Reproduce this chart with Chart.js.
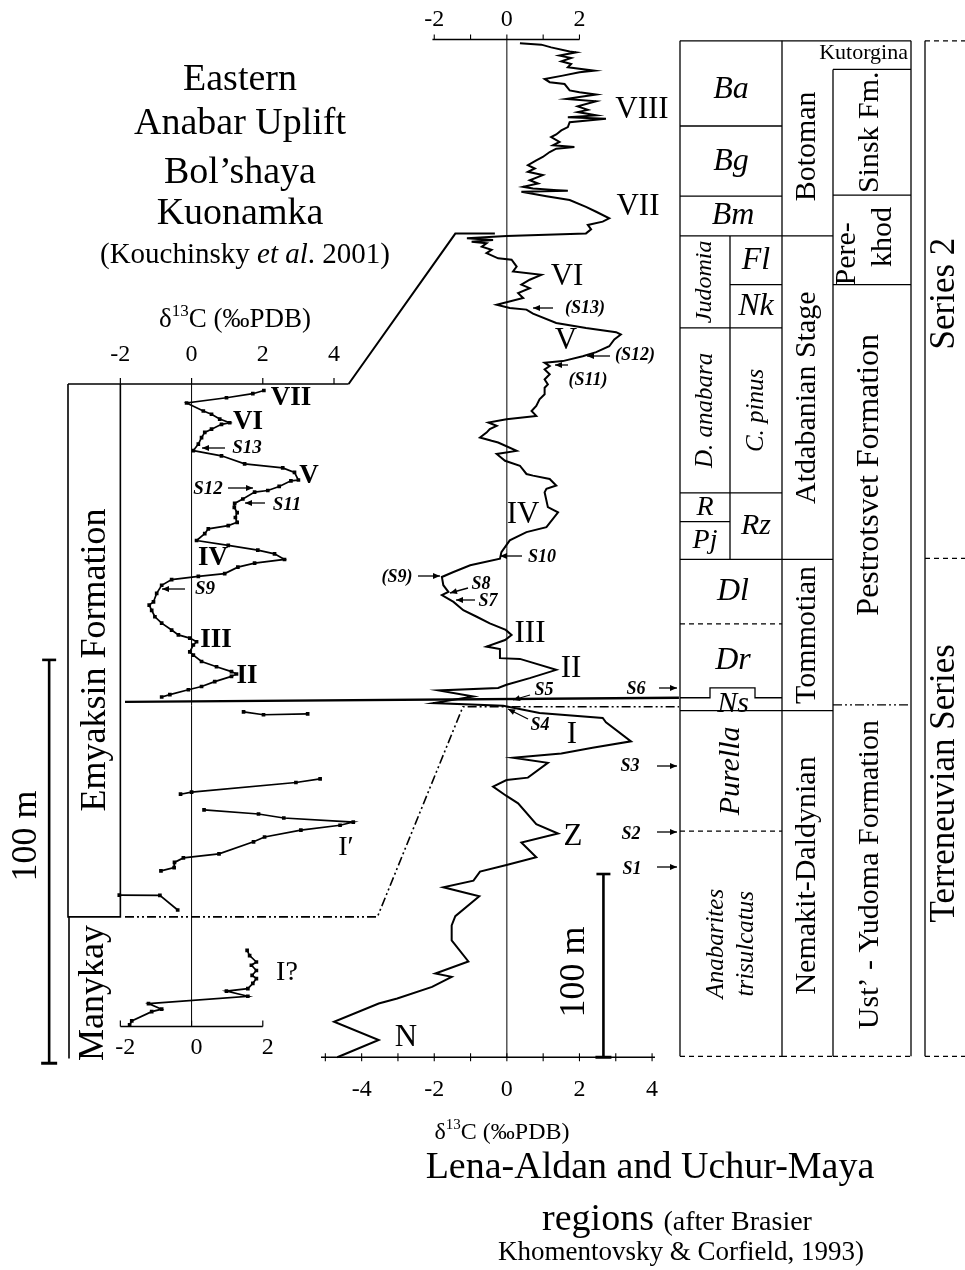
<!DOCTYPE html>
<html>
<head>
<meta charset="utf-8">
<title>Cambrian δ13C chemostratigraphy, Siberian Platform</title>
<script src="https://cdn.jsdelivr.net/npm/chart.js@4.4.1/dist/chart.umd.min.js"></script>
<style>
  html, body { margin: 0; padding: 0; background: #fff; overflow: hidden; }
  canvas { display: block; }
</style>
</head>
<body>
<canvas id="chart" width="965" height="1270"></canvas>
<script>
// Eastern Anabar Uplift (Bol'shaya Kuonamka): [d13C, height m]
const anabarUpper = [
  [2.03,166.8],[1.72,166.0],[0.98,165.0],[-0.14,163.7],[0.33,161.7],[0.56,160.9],[0.79,159.7],[1.07,158.8],
  [0.84,158.4],[0.56,157.2],[0.37,156.4],[0.28,155.1],[0.19,153.5],[0.05,151.9],[0.84,150.6],[1.49,148.6],
  [2.56,147.6],[2.89,146.5],[3.00,144.6],[2.79,144.4],[2.46,143.0],[2.14,142.0],[1.77,141.6],[1.44,139.9],
  [1.21,138.8],[1.20,137.8],[1.28,136.5],[1.23,135.3],[1.28,134.1],[1.03,133.3],[0.47,132.5],[0.37,131.3],
  [0.14,129.6],[1.03,128.4],[1.86,127.2],[2.33,126.3],[2.61,124.9],[1.77,124.0],[1.30,123.0],[0.93,121.4],
  [0.19,120.7],[-0.56,119.9],[-0.84,118.5],[-0.98,116.5],[-1.07,114.4],[-1.19,113.6],[-1.12,112.3],[-1.03,110.7],
  [-0.84,109.1],[-0.56,107.4],[-0.37,106.2],[-0.05,105.4],[0.14,104.5],[0.05,103.7],[-0.05,102.0],[0.05,101.2],
  [0.28,99.6],[0.70,98.3],[1.12,97.1],[1.26,96.5],[1.12,95.9],[0.65,94.6],[0.28,93.4],[-0.09,92.6],
  [-0.61,91.4],[-0.84,90.8]
];
const anabarSegA = [[1.46,87.1],[2.02,86.4],[3.26,86.6]];
const anabarSegB = [[3.61,70.5],[2.93,69.6],[0.00,67.2],[-0.31,66.7]];
const anabarSegC = [
  [0.35,62.8],[1.88,61.8],[2.59,60.8],[4.54,59.8],[4.17,59.0],[3.07,57.8],[2.05,56.1],
  [1.74,54.9],[0.77,51.9],[-0.23,50.9],[-0.48,49.8],[-0.49,48.5],[-0.86,47.7]
];
const anabarSegD = [[-2.03,41.7],[-0.89,41.6],[-0.39,38.0]];
const manykay = [
  [1.56,28.0],[1.63,26.7],[1.82,25.1],[1.68,24.3],[1.82,23.0],[1.70,21.8],[1.82,21.0],[1.72,19.8],
  [1.58,18.5],[0.98,17.9],[1.58,16.6],[-1.21,14.8],[-0.84,13.4],[-1.12,12.8],[-1.68,10.5],[-1.74,9.5]
];

// Lena-Aldan and Uchur-Maya composite: [d13C, height m]
const lenaAldan = [
  [0.36,553.4],[0.95,552.6],[1.22,551.1],[1.73,548.9],[1.91,548.4],[1.45,546.6],[1.77,545.3],[1.50,543.5],
  [1.77,542.0],[1.68,540.2],[2.41,538.4],[2.00,537.5],[1.54,535.7],[1.04,533.9],[1.18,532.1],[1.59,531.1],
  [1.73,527.6],[2.00,526.6],[2.46,525.4],[2.09,524.3],[1.64,523.0],[2.46,521.7],[1.95,518.9],[2.23,517.0],
  [1.95,515.8],[2.46,514.0],[1.68,513.0],[2.73,512.1],[1.73,510.3],[1.68,507.6],[1.50,505.8],[1.36,503.6],
  [1.22,502.2],[1.45,499.5],[1.27,497.7],[1.86,496.7],[1.36,495.8],[1.18,494.0],[0.99,491.3],[0.81,489.5],
  [0.58,486.8],[0.77,485.0],[0.58,483.2],[0.99,481.4],[0.63,478.6],[0.86,476.8],[0.45,475.0],[0.72,474.1],
  [1.68,472.8],[0.40,472.3],[1.09,469.9],[1.73,467.8],[2.18,464.1],[2.46,461.4],[2.82,457.8],[2.64,456.0],
  [2.23,454.2],[2.32,451.8],[2.18,449.6],[-0.01,448.2],[-1.10,446.9],[-0.38,446.0],[-0.97,445.1],[-0.56,444.2],
  [-0.69,442.4],[-0.42,440.6],[-0.56,438.8],[-0.24,436.0],[0.13,435.2],[0.27,431.5],[0.17,428.8],[0.95,427.0],
  [0.63,424.3],[0.40,421.6],[0.63,419.7],[0.31,417.0],[0.45,414.3],[-0.28,410.7],[0.08,408.9],[0.54,408.0],
  [0.72,405.8],[1.36,400.7],[2.18,398.0],[3.01,395.7],[3.14,394.4],[2.96,391.7],[2.82,388.0],[2.46,384.8],
  [2.09,382.6],[1.54,379.9],[1.04,379.0],[1.18,377.2],[1.04,375.4],[1.18,372.7],[1.04,369.9],[1.13,367.2],
  [1.04,365.4],[1.04,361.8],[0.90,359.1],[0.81,355.4],[0.68,352.7],[0.81,350.0],[-0.01,348.2],[-0.51,346.4],
  [-0.28,344.6],[-0.47,342.8],[-0.56,340.9],[-0.74,338.2],[-0.42,336.4],[-0.24,335.5],[0.27,330.9],[-0.28,329.2],
  [-0.05,325.5],[0.36,322.8],[0.54,318.3],[0.72,317.4],[1.18,315.6],[1.36,312.0],[1.09,310.2],[1.04,308.3],
  [1.13,300.2],[1.41,297.4],[1.09,289.3],[0.54,286.6],[0.08,282.1],[-0.15,275.7],[-0.19,272.1],[-1.01,268.5],
  [-1.47,264.8],[-1.79,262.1],[-1.75,257.6],[-1.61,254.0],[-1.79,252.2],[-1.47,248.5],[-1.20,244.0],[-0.83,240.4],
  [-0.47,236.8],[-0.03,233.2],[0.13,230.4],[-0.05,227.7],[-0.56,224.1],[-0.19,222.8],[-0.19,217.8],[0.36,217.4],
  [1.36,211.4],[0.63,206.9],[-0.01,203.3],[-0.24,201.5],[-1.88,200.2],[-0.92,196.9],[-2.02,193.3],[-0.10,191.8],
  [0.90,187.9],[2.64,185.2],[2.73,182.8],[3.42,172.4],[2.36,168.9],[1.50,165.8],[0.17,163.4],[1.13,160.7],
  [0.58,152.6],[-0.01,151.3],[-0.38,147.7],[-0.01,142.6],[0.31,138.6],[0.81,127.2],[1.41,122.1],[0.40,117.2],
  [0.81,109.1],[-0.01,104.9],[-0.74,101.3],[-0.92,96.4],[-1.75,92.8],[-0.76,87.9],[-1.42,77.0],[-1.52,71.9],
  [-1.52,63.8],[-1.06,52.3],[-1.97,45.7],[-1.52,43.9],[-2.06,38.4],[-3.02,32.1],[-3.53,29.3],[-4.76,19.4],
  [-3.53,9.4],[-4.67,0]
];

// axes
const anabarTicks = [-2, 0, 2, 4];
const manykayTicks = [-2, 0, 2];
const lenaTopTicks = [-2, -1, 0, 1, 2];
const lenaTopLabels = [-2, 0, 2];
const lenaBottomTicks = [-5, -4, -3, -2, -1, 0, 1, 2, 3, 4];
const lenaBottomLabels = [-4, -2, 0, 2, 4];
const anabarAxisLevel = 168.4;
const manykayAxisLevel = 9.1;
const lenaTopLevel = 555.4;
const lenaBottomLevel = 0;

// stratigraphic columns (Lena-Aldan heights, m)
const zoneNames = ['Ba', 'Bg', 'Bm', 'Judomia', 'D. anabara', 'R', 'Pj', 'Fl', 'Nk', 'C. pinus', 'Rz',
                   'Dl', 'Dr', 'Ns', 'Purella', 'Anabarites|trisulcatus'];
const zoneTops  = [554.7, 508.2, 469.9, 448.2, 398.0, 308.0, 292.3, 448.2, 421.6, 398.0, 308.0,
                   271.7, 236.5, 196.2, 189.2, 123.4];
const zoneBases = [508.2, 469.9, 448.2, 398.0, 308.0, 292.3, 271.7, 421.6, 398.0, 308.0, 271.7,
                   236.5, 196.2, 189.2, 123.4, 0.5];
const zoneCols  = ['f', 'f', 'f', 'l', 'l', 'l', 'l', 'r', 'r', 'r', 'r', 'f', 'f', 'f', 'f', 'f'];
const stageNames = ['Botoman', 'Atdabanian Stage', 'Tommotian', 'Nemakit-Daldynian'];
const stageLimits = [554.7, 448.2, 271.7, 189.2, 0.5];
const formationNames = ['Kutorgina', 'Sinsk Fm.', 'Pere-|khod', 'Pestrotsvet Formation', 'Ust’ - Yudoma Formation'];
const formationLimits = [554.7, 539.1, 470.5, 421.6, 192.3, 0.5];
const seriesNames = ['Series 2', 'Terreneuvian Series'];
const seriesLimits = [554.7, 272.3, 0.5];
const nsBumpTop = 201.6;

// correlation lines between the two sections
const tieUpperLeft = [4.41, 168.4];
const tieUpperRight = [[-1.42, 449.5], [-0.33, 449.5]];
const tieBaseLeft = [-1.87, 89.6];
const tieBaseRight = [4.74, 196.2];
const tieDashLeft = [[-1.87, 36.3], [5.22, 36.3]];
const tieDashRight = [[-1.21, 191.3], [4.74, 191.3]];

const SERIF = '"Liberation Serif", "Times New Roman", Times, serif';

function font(size, style) {
  return (style ? style + ' ' : '') + size + 'px ' + SERIF;
}

function label(ctx, s, x, y, size, style, rotated) {
  ctx.save();
  ctx.font = font(size, style);
  ctx.fillStyle = '#000';
  ctx.textAlign = 'center';
  ctx.textBaseline = 'middle';
  ctx.translate(x, y);
  if (rotated) ctx.rotate(-Math.PI / 2);
  ctx.fillText(s, 0, 0);
  ctx.restore();
}

function richLine(ctx, parts, cx, y) {
  ctx.save();
  ctx.fillStyle = '#000';
  ctx.textAlign = 'left';
  ctx.textBaseline = 'alphabetic';
  let w = 0;
  parts.forEach(p => { ctx.font = p[1]; w += ctx.measureText(p[0]).width; });
  let x = cx - w / 2;
  parts.forEach(p => {
    ctx.font = p[1];
    ctx.fillText(p[0], x, y + (p[2] || 0));
    x += ctx.measureText(p[0]).width;
  });
  ctx.restore();
}

function deltaLabel(ctx, cx, y, size) {
  richLine(ctx, [['δ', font(size)], ['13', font(Math.round(size * 0.62)), -size * 0.42],
                 ['C (‰PDB)', font(size)]], cx, y);
}

function seg(ctx, pts, width, dash) {
  ctx.save();
  ctx.lineWidth = width || 1;
  ctx.strokeStyle = '#000';
  ctx.setLineDash(dash || []);
  ctx.beginPath();
  pts.forEach((p, i) => i ? ctx.lineTo(p[0], p[1]) : ctx.moveTo(p[0], p[1]));
  ctx.stroke();
  ctx.restore();
}

function arrow(ctx, x1, y1, x2, y2) {
  seg(ctx, [[x1, y1], [x2, y2]], 1.3);
  const a = Math.atan2(y2 - y1, x2 - x1), L = 7, W = 3;
  ctx.save();
  ctx.fillStyle = '#000';
  ctx.beginPath();
  ctx.moveTo(x2, y2);
  ctx.lineTo(x2 - L * Math.cos(a) + W * Math.sin(a), y2 - L * Math.sin(a) - W * Math.cos(a));
  ctx.lineTo(x2 - L * Math.cos(a) - W * Math.sin(a), y2 - L * Math.sin(a) + W * Math.cos(a));
  ctx.closePath();
  ctx.fill();
  ctx.restore();
}

const DASH = [5, 4];
const DASHDOT = [9, 3, 2, 3, 2, 3];

const figurePlugin = {
  id: 'figure',
  beforeDatasetsDraw(chart) {
    const ctx = chart.ctx, s = chart.scales;
    const XL = v => s.xL.getPixelForValue(v), YL = v => s.yL.getPixelForValue(v);
    const XM = v => s.xM.getPixelForValue(v), YM = v => s.yM.getPixelForValue(v);

    // Anabar section frame and axes
    const yTop = YL(anabarAxisLevel), yMan = YL(manykayAxisLevel), yEmBase = YL(tieDashLeft[0][1]);
    seg(ctx, [[68, yTop], [XL(tieUpperLeft[0]), yTop]], 1.6);
    anabarTicks.forEach(t => seg(ctx, [[XL(t), yTop], [XL(t), yTop - 6]], 1.2));
    seg(ctx, [[XL(0), yTop], [XL(0), yMan]], 1);
    seg(ctx, [[68, yTop], [68, yEmBase], [XL(-2), yEmBase], [XL(-2), yTop]], 1.6);
    seg(ctx, [[69, yEmBase], [69, YL(1.2)]], 1.6);
    seg(ctx, [[XL(-2), yMan], [XL(2), yMan]], 1.5);
    manykayTicks.forEach(t => seg(ctx, [[XL(t), yMan], [XL(t), yMan - 6]], 1.2));
    // 100 m bar (Anabar)
    const bx = XL(-4);
    seg(ctx, [[bx, YL(100)], [bx, YL(0)]], 2.6);
    seg(ctx, [[bx - 7, YL(100)], [bx + 7, YL(100)]], 2.6);
    seg(ctx, [[bx - 8, YL(0)], [bx + 8, YL(0)]], 3);

    // Lena-Aldan axes
    const yT = YM(lenaTopLevel), yB = YM(lenaBottomLevel);
    seg(ctx, [[XM(-2.05), yT], [XM(2), yT]], 1.3);
    lenaTopTicks.forEach(t => seg(ctx, [[XM(t), yT], [XM(t), yT - 5]], 1.1));
    seg(ctx, [[XM(0), yT], [XM(0), yB]], 1, []);
    seg(ctx, [[XM(-5.12), yB], [XM(4.08), yB]], 1.3);
    lenaBottomTicks.forEach(t => seg(ctx, [[XM(t), yB - 4], [XM(t), yB + 4]], 1.1));
    // 100 m bar (Lena-Aldan)
    const mx = XM(2.66);
    seg(ctx, [[mx, YM(100)], [mx, YM(0)]], 2.6);
    seg(ctx, [[mx - 7, YM(100)], [mx + 7, YM(100)]], 2.6);
    seg(ctx, [[mx - 8, YM(0)], [mx + 8, YM(0)]], 3);

    // correlation lines
    seg(ctx, [[XL(tieUpperLeft[0]), YL(tieUpperLeft[1])]].concat(tieUpperRight.map(p => [XM(p[0]), YM(p[1])])), 2);
    seg(ctx, [[XL(tieBaseLeft[0]), YL(tieBaseLeft[1])], [XM(tieBaseRight[0]), YM(tieBaseRight[1])]], 2.4);
    seg(ctx, tieDashLeft.map(p => [XL(p[0]), YL(p[1])]).concat(tieDashRight.map(p => [XM(p[0]), YM(p[1])])), 1.6, DASHDOT);

    // stratigraphic columns
    const c0 = 680, c1 = 730, c2 = 782, c3 = 833, c4 = 911, s0 = 925, s1 = 965;
    const top = YM(stageLimits[0]), base = YM(stageLimits[stageLimits.length - 1]);
    seg(ctx, [[c0, top], [c4, top]], 1.3);
    [c0, c2, c4].forEach(x => seg(ctx, [[x, top], [x, base]], 1.3));
    seg(ctx, [[c3, YM(formationLimits[1])], [c3, base]], 1.3);
    seg(ctx, [[c1, YM(448.2)], [c1, YM(271.7)]], 1.3);
    zoneNames.forEach((n, i) => {
      if (n === 'Dr') return;
      const xa = zoneCols[i] === 'r' ? c1 : c0, xb = zoneCols[i] === 'l' ? c1 : c2;
      const dashed = n === 'Dl' || n === 'Purella' || n.startsWith('Anabarites');
      seg(ctx, [[xa, YM(zoneBases[i])], [xb, YM(zoneBases[i])]], 1.3, dashed ? DASH : []);
    });
    const yNs = YM(zoneTops[zoneNames.indexOf('Ns')]), yBump = YM(nsBumpTop);
    seg(ctx, [[c0, yNs], [710, yNs], [710, yBump], [755, yBump], [755, yNs], [c2, yNs]], 1.3);
    stageLimits.slice(1).forEach((v, i, a) => {
      seg(ctx, [[c2, YM(v)], [c3, YM(v)]], 1.3, i === a.length - 1 ? DASH : []);
    });
    formationLimits.slice(1).forEach((v, i, a) => {
      const last = i === a.length - 1;
      const dash = last ? DASH : (v === 192.3 ? DASHDOT : []);
      seg(ctx, [[c3, YM(v)], [c4, YM(v)]], 1.3, dash);
    });
    seg(ctx, [[s0, top], [s0, base]], 1.3);
    seriesLimits.forEach(v => seg(ctx, [[s0, YM(v)], [s1, YM(v)]], 1.3, DASH));
  },
  afterDatasetsDraw(chart) {
    const ctx = chart.ctx, s = chart.scales;
    const XL = v => s.xL.getPixelForValue(v);
    const XM = v => s.xM.getPixelForValue(v), YM = v => s.yM.getPixelForValue(v);

    // titles
    label(ctx, 'Eastern', 240, 80, 38);
    label(ctx, 'Anabar Uplift', 240, 124, 38);
    label(ctx, 'Bol’shaya', 240, 173, 38);
    label(ctx, 'Kuonamka', 240, 214, 38);
    richLine(ctx, [['(Kouchinsky ', font(29)], ['et al', font(29, 'italic')], ['. 2001)', font(29)]], 245, 263);
    deltaLabel(ctx, 235, 327, 27);
    anabarTicks.forEach(t => label(ctx, String(t), XL(t), 355, 24));
    manykayTicks.forEach(t => label(ctx, String(t), XL(t) + 5, 1048, 24));
    lenaTopLabels.forEach(t => label(ctx, String(t), XM(t), 20, 24));
    lenaBottomLabels.forEach(t => label(ctx, String(t), XM(t), 1090, 24));
    deltaLabel(ctx, 502, 1139, 24);
    label(ctx, 'Lena-Aldan and Uchur-Maya', 650, 1168, 38);
    richLine(ctx, [['regions ', font(38)], ['(after Brasier', font(28)]], 677, 1230);
    label(ctx, 'Khomentovsky & Corfield, 1993)', 681, 1253, 27);

    // formation names on the Anabar side
    label(ctx, 'Emyaksin Formation', 96, 660, 36, '', true);
    label(ctx, 'Manykay', 94, 993, 36, '', true);
    label(ctx, '100 m', 27, 836, 36, '', true);
    label(ctx, '100 m', 575, 972, 36, '', true);

    // Anabar curve labels
    const B = 'bold', BI = 'italic bold';
    label(ctx, 'VII', 291, 398, 27, B);
    label(ctx, 'VI', 248, 422, 27, B);
    label(ctx, 'S13', 247, 448, 19, BI);
    label(ctx, 'V', 309, 476, 27, B);
    label(ctx, 'S12', 208, 489, 19, BI);
    label(ctx, 'S11', 287, 505, 19, BI);
    label(ctx, 'IV', 213, 558, 27, B);
    label(ctx, 'S9', 205, 589, 19, BI);
    label(ctx, 'III', 216, 640, 27, B);
    label(ctx, 'II', 247, 676, 27, B);
    label(ctx, 'I′', 346, 848, 28);
    label(ctx, 'I?', 287, 973, 28);
    arrow(ctx, 225, 448, 202, 448);
    arrow(ctx, 228, 488, 253, 488);
    arrow(ctx, 265, 503, 245, 503);
    arrow(ctx, 185, 589, 162, 589);

    // Lena-Aldan curve labels
    label(ctx, 'VIII', 642, 110, 31);
    label(ctx, 'VII', 638, 207, 31);
    label(ctx, 'VI', 567, 277, 31);
    label(ctx, 'V', 566, 341, 31);
    label(ctx, 'IV', 523, 515, 31);
    label(ctx, 'III', 530, 634, 31);
    label(ctx, 'II', 571, 669, 31);
    label(ctx, 'I', 572, 735, 31);
    label(ctx, 'Z', 573, 837, 31);
    label(ctx, 'N', 406, 1038, 31);
    label(ctx, '(S13)', 585, 308, 18, BI);
    label(ctx, '(S12)', 635, 355, 18, BI);
    label(ctx, '(S11)', 588, 380, 18, BI);
    label(ctx, 'S10', 542, 557, 18, BI);
    label(ctx, '(S9)', 397, 577, 18, BI);
    label(ctx, 'S8', 481, 584, 18, BI);
    label(ctx, 'S7', 488, 601, 18, BI);
    label(ctx, 'S5', 544, 690, 18, BI);
    label(ctx, 'S6', 636, 689, 18, BI);
    label(ctx, 'S4', 540, 725, 18, BI);
    label(ctx, 'S3', 630, 766, 18, BI);
    label(ctx, 'S2', 631, 834, 18, BI);
    label(ctx, 'S1', 632, 869, 18, BI);
    arrow(ctx, 553, 308, 533, 308);
    arrow(ctx, 610, 356, 587, 356);
    arrow(ctx, 568, 365, 555, 365);
    arrow(ctx, 522, 556, 500, 556);
    arrow(ctx, 418, 576, 440, 576);
    arrow(ctx, 468, 588, 450, 593);
    arrow(ctx, 475, 600, 456, 600);
    arrow(ctx, 530, 695, 513, 700);
    arrow(ctx, 528, 719, 508, 709);
    arrow(ctx, 659, 688, 677, 688);
    arrow(ctx, 657, 766, 677, 766);
    arrow(ctx, 657, 832, 677, 832);
    arrow(ctx, 657, 867, 677, 867);

    // column texts
    const c0 = 680, c1 = 730, c2 = 782, c3 = 833, c4 = 911;
    const rotatedZones = ['Judomia', 'D. anabara', 'C. pinus', 'Purella', 'Anabarites|trisulcatus'];
    const zoneSize = {Ba: 32, Bg: 32, Bm: 32, Fl: 32, Nk: 32, R: 28, Pj: 28, Rz: 30, Dl: 32, Dr: 32, Ns: 30,
                      Judomia: 24, 'D. anabara': 25, 'C. pinus': 25, Purella: 30, 'Anabarites|trisulcatus': 25};
    zoneNames.forEach((n, i) => {
      const xa = zoneCols[i] === 'r' ? c1 : c0, xb = zoneCols[i] === 'l' ? c1 : c2;
      const cx = (xa + xb) / 2 + (n === 'Bm' || n === 'Dl' || n === 'Dr' || n === 'Ns' ? 2 : 0);
      const cy = (YM(zoneTops[i]) + YM(zoneBases[i])) / 2 + (n === 'Ba' ? 6 : 0);
      const rot = rotatedZones.includes(n);
      const lines = n.split('|');
      lines.forEach((ln, k) => {
        const off = (k - (lines.length - 1) / 2) * 30;
        label(ctx, ln, cx + off, cy, zoneSize[n], 'italic', rot);
      });
    });
    stageNames.forEach((n, i) => {
      const cy = (YM(stageLimits[i]) + YM(stageLimits[i + 1])) / 2 + (i === 0 ? 8 : 0) + (i === 3 ? -8 : 0);
      label(ctx, n, (c2 + c3) / 2, cy, 30, '', true);
    });
    formationNames.forEach((n, i) => {
      const cy = (YM(formationLimits[i]) + YM(formationLimits[i + 1])) / 2;
      if (n === 'Kutorgina') {
        ctx.save();
        ctx.font = font(22);
        ctx.textAlign = 'right';
        ctx.textBaseline = 'middle';
        ctx.fillStyle = '#000';
        ctx.fillText(n, c4 - 3, cy - 2);
        ctx.restore();
        return;
      }
      if (n === 'Pere-|khod') {
        label(ctx, 'Pere-', 847, cy + 14, 30, '', true);
        label(ctx, 'khod', 883, cy - 3, 30, '', true);
        return;
      }
      const dy = n.startsWith('Pestrotsvet') ? -20 : (n.startsWith('Ust') ? -6 : 0);
      label(ctx, n, (c3 + c4) / 2 - 2, cy + dy, n.startsWith('Pestrotsvet') ? 32 : 30, '', true);
    });
    seriesNames.forEach((n, i) => {
      const cy = (YM(seriesLimits[i]) + YM(seriesLimits[i + 1])) / 2 + (i === 1 ? -24 : -6);
      label(ctx, n, 945, cy, 35, '', true);
    });
  }
};

function pts(arr) {
  return arr.map(p => ({x: p[0], y: p[1]}));
}

const anabarStyle = {
  showLine: true, borderColor: '#000', backgroundColor: '#000', borderWidth: 1.7,
  pointStyle: 'rect', pointRadius: 2.6, pointBorderWidth: 0, pointHoverRadius: 0,
  xAxisID: 'xL', yAxisID: 'yL', tension: 0
};

new Chart(document.getElementById('chart'), {
  type: 'scatter',
  data: {
    datasets: [
      Object.assign({label: 'Emyaksin upper', data: pts(anabarUpper)}, anabarStyle),
      Object.assign({label: 'Emyaksin a', data: pts(anabarSegA)}, anabarStyle),
      Object.assign({label: 'Emyaksin b', data: pts(anabarSegB)}, anabarStyle),
      Object.assign({label: 'Emyaksin c', data: pts(anabarSegC)}, anabarStyle),
      Object.assign({label: 'Emyaksin d', data: pts(anabarSegD)}, anabarStyle),
      Object.assign({label: 'Manykay', data: pts(manykay)}, anabarStyle),
      {
        label: 'Lena-Aldan', data: pts(lenaAldan), showLine: true, borderColor: '#000',
        borderWidth: 2, pointRadius: 0, pointHoverRadius: 0, tension: 0,
        xAxisID: 'xM', yAxisID: 'yM'
      }
    ]
  },
  options: {
    responsive: false,
    devicePixelRatio: 1,
    animation: false,
    events: [],
    layout: {padding: 0},
    plugins: {legend: {display: false}, tooltip: {enabled: false}},
    scales: {
      xL: {type: 'linear', axis: 'x', display: false, min: -5.3073, max: 21.648},
      xM: {type: 'linear', axis: 'x', display: false, min: -13.890, max: 12.548},
      yL: {type: 'linear', axis: 'y', display: false, min: -50.617, max: 262.963},
      yM: {type: 'linear', axis: 'y', display: false, min: -114.674, max: 575.543}
    }
  },
  plugins: [figurePlugin]
});
</script>
</body>
</html>
